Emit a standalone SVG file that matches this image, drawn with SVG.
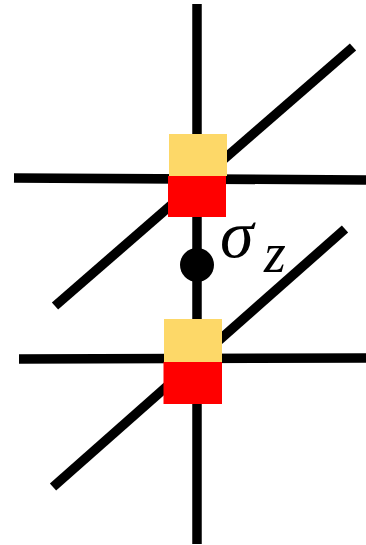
<svg xmlns="http://www.w3.org/2000/svg" width="366" height="545" viewBox="0 0 366 545">
<style>
.ln{stroke:#000;stroke-width:9.5;fill:none}
.yl{fill:#FDD868}
.rd{fill:#FF0000}
.lbl{font-family:"Liberation Serif","DejaVu Serif",serif;font-style:italic;fill:#000}
</style>
<rect width="366" height="545" fill="#fff"/>
<g id="connectors">
<line class="ln" x1="197" y1="4" x2="197" y2="544"/>
<line class="ln" x1="14" y1="178" x2="366" y2="180"/>
<line class="ln" x1="19" y1="359" x2="366" y2="358"/>
<line class="ln" x1="55" y1="306" x2="353" y2="47"/>
<line class="ln" x1="53" y1="487" x2="345" y2="229"/>
</g>
<g id="node-top">
<rect class="yl" x="169" y="134" width="58" height="42"/>
<rect class="rd" x="168" y="176" width="58" height="41"/>
</g>
<g id="node-bottom">
<rect class="yl" x="164" y="319" width="58" height="43"/>
<rect class="rd" x="163.5" y="362" width="58.5" height="42"/>
</g>
<g id="node-sigma">
<circle cx="197" cy="265" r="17" fill="#000"/>
<text class="lbl" x="220" y="257" font-size="68">σ</text>
<text class="lbl" x="264" y="272" font-size="56">z</text>
</g>
</svg>
